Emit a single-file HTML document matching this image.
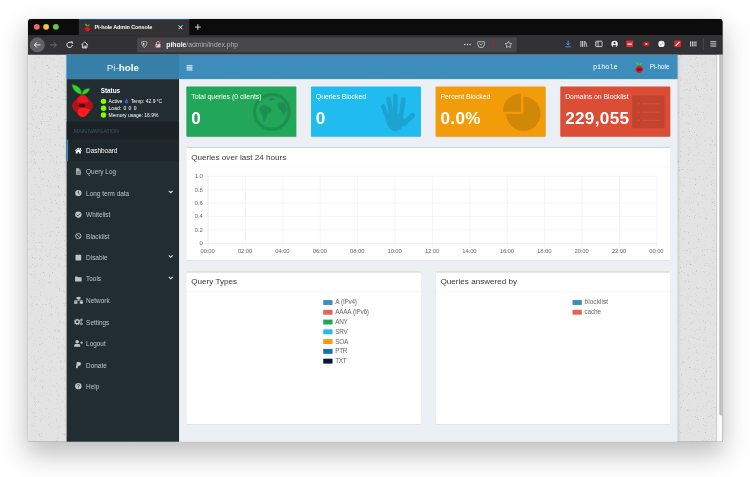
<!DOCTYPE html>
<html lang="en">
<head>
<meta charset="utf-8">
<title>Pi-hole Admin Console</title>
<style>
*{box-sizing:border-box}
html,body{margin:0;padding:0}
body{width:750px;height:477px;background:#fff;position:relative;overflow:hidden;font-family:"Liberation Sans",sans-serif}
#shadow{position:absolute;left:28px;top:19px;width:694px;height:422px;border-radius:3px;box-shadow:0 12px 26px 2px rgba(0,0,0,.25),0 0 2px rgba(0,0,0,.2)}
#win{position:absolute;left:27.7px;top:18.6px;width:1421px;height:865px;transform:scale(.4888);transform-origin:0 0;background:#323234;border-radius:7px 7px 0 0;overflow:hidden}
/* ---------- browser chrome ---------- */
#titlebar{position:absolute;left:0;top:0;width:1421px;height:34px;background:#0c0c0d}
.tl{position:absolute;top:10.200px;width:12px;height:12px;border-radius:50%}
#tab{position:absolute;left:104px;top:0;width:226px;height:33px;background:#323234;border-top:1.500px solid #0a84ff;color:#f9f9fa;font-size:12px;font-weight:bold;line-height:30px}
#tab span{position:absolute;left:32px;top:0;white-space:nowrap;letter-spacing:-.25px;font-size:11.3px}
#toolbar{position:absolute;left:0;top:33px;width:1421px;height:40px;background:#323234;border-bottom:1px solid #1a1a1c}
#urlbar{position:absolute;left:223px;top:4.500px;width:777px;height:30px;background:#474749;border-radius:3px;color:#b1b1b3;font-size:13.900px;line-height:31px}
#urlbar .u{position:absolute;left:60px;top:0;white-space:nowrap}
#urlbar b{color:#f9f9fa}
.ic{position:absolute}
#urlbar svg.ic{margin-top:0}
/* ---------- page ---------- */
#page{position:absolute;left:0;top:72.500px;width:1409px;height:793px;background:#e3e3e3;overflow:hidden}
#scroll{position:absolute;left:1408.500px;top:72.500px;width:13px;height:793px;background:#fafafa;border-left:1px solid #e8e8e8}
#scroll i{position:absolute;left:4.500px;top:0;width:8px;height:738px;background:#c1c1c1;border-radius:0 0 4px 4px}
#wrap{position:absolute;left:78.900px;top:.5px;width:1250px;height:793px;background:#ecf0f5;box-shadow:0 0 6px rgba(0,0,0,.3)}
#logo{position:absolute;left:0;top:0;width:230.200px;height:50px;background:#367fa9;color:#fff;font-size:20px;line-height:54.500px;text-align:center}
#nav{position:absolute;left:230px;top:0;width:1020px;height:50px;color:#fff}
#side{position:absolute;left:0;top:49.500px;width:230px;height:744px;background:#222d32;color:#b8c7ce}

/* sidebar */
#upanel{position:absolute;left:0;top:0;width:230px;height:87px}
#upanel svg.lg{position:absolute;left:10px;top:10px}
#upanel .st{position:absolute;left:70px;top:16px;color:#fff;font-weight:bold;font-size:12.900px;line-height:16px}
#upanel .ln{position:absolute;left:70px;color:#fff;font-size:10.200px;line-height:14px;white-space:nowrap}
#upanel .ln i{display:inline-block;width:11px;height:11px;border-radius:50%;background:#7fff00;vertical-align:-2px;margin-right:5px}
#mh{position:absolute;left:0;top:87px;width:230px;height:37px;background:#1a2226;color:#41575f;font-size:10.600px;line-height:41px;padding-left:15px;letter-spacing:-.1px}
.mi{position:absolute;left:0;width:230px;height:44px;color:#b8c7ce;font-size:13.1px;line-height:44px;border-left:3px solid transparent}
.mi.act{background:#1e282c;color:#fff;border-left-color:#3c8dbc}
.mi span{position:absolute;left:37px;top:1.5px;white-space:nowrap}
.mi svg.i{position:absolute;left:13.500px;top:15px;width:16px;height:14.200px;fill:currentColor}
.mi svg.i.w{left:12.500px;top:14.500px;width:19px;height:15.200px}
.mi svg.ch{position:absolute;left:205.500px;top:15px;width:10px;height:10px}
/* nav */
#nav svg.bars{position:absolute;left:15.500px;top:19.500px}
#nav .host{position:absolute;left:847px;top:0;line-height:50px;font-family:"Liberation Mono",monospace;font-size:14px;white-space:nowrap}
#nav .usr{position:absolute;left:963px;top:0;line-height:50px;font-size:13px;white-space:nowrap}
#nav svg.ul{position:absolute;left:933px;top:14px}
/* content */
.sb{position:absolute;top:65px;width:225px;height:103px;border-radius:2px;color:#fff;overflow:hidden;box-shadow:0 1px 1px rgba(0,0,0,.1)}
.sb p{position:absolute;left:10px;top:10px;margin:0;font-size:14px;line-height:21px;white-space:nowrap}
.sb h3{position:absolute;left:10px;top:43.5px;margin:0;font-size:35px;line-height:42px;font-weight:bold;white-space:nowrap;letter-spacing:.7px}
.sb svg{position:absolute}
.bx{position:absolute;background:#fff;border-top:3px solid #d2d6de;border-radius:3px;box-shadow:0 1px 1px rgba(0,0,0,.1)}
.bx .hd{position:absolute;left:0;top:0;right:0;height:39px;border-bottom:1px solid #f4f4f4;color:#383838;font-size:16.6px;line-height:38px;padding-left:10px;white-space:nowrap}
.lg2{position:absolute;font-size:13px;line-height:20px;color:#666;white-space:nowrap;letter-spacing:-.5px;word-spacing:1.500px}
.lg2 i{display:inline-block;width:19.600px;height:10.500px;vertical-align:-1px;margin-right:5px}
.ax{position:absolute;font-size:12px;letter-spacing:-.2px;color:#666;line-height:12px;white-space:nowrap}
</style>
</head>
<body>
<div id="shadow"></div>
<div id="win">
  <div id="titlebar">
    <div class="tl" style="left:11.800px;background:#ed6a5e"></div>
    <div class="tl" style="left:31.300px;background:#f5bf4f"></div>
    <div class="tl" style="left:51.300px;background:#61c554"></div>
    <div id="tab"><span>Pi-hole Admin Console</span></div><svg class="ic" style="left:116.300px;top:8.600px" width="12" height="18" viewBox="0 0 45 67"><path d="M22 23C9 21 2 12 1 1c12 1 22 8 21 22z" fill="#2fd32f"/><path d="M23 23c0-9 5-15 15-16 0 9-6 15-15 16z" fill="#2fd32f"/><path d="M22 22c4 0 7 2 10 5l9 9c4 4 4 9 0 13l-9 10c-6 6-14 6-20 0l-8-9c-4-4-4-9 0-13l9-10c3-3 6-5 9-5z" fill="#e3101b"/></svg><svg class="ic" style="left:307.2px;top:12.2px" width="10" height="10" viewBox="0 0 10 10"><path d="M1 1l8 8M9 1l-8 8" stroke="#f9f9fa" stroke-width="2"/></svg><svg class="ic" style="left:340.5px;top:9.7px" width="13" height="13" viewBox="0 0 13 13"><path d="M6.500 0.500v12M0.500 6.500h12" stroke="#f9f9fa" stroke-width="1.700"/></svg>
  </div>
  <div id="toolbar">
    <div class="ic" style="left:4.4px;top:5.0px;width:30px;height:30px;border-radius:50%;background:#636365;border:1px solid #747476"></div><svg class="ic" style="left:11.4px;top:12.0px" width="16" height="16" viewBox="0 0 16 16"><path d="M14.500 8H2M7.500 2.500L2 8l5.500 5.500" stroke="#f9f9fa" stroke-width="1.800" fill="none"/></svg><svg class="ic" style="left:43.8px;top:12.0px" width="16" height="16" viewBox="0 0 16 16"><path d="M1.500 8H14M8.500 2.500L14 8l-5.500 5.500" stroke="#7d7d80" stroke-width="1.700" fill="none"/></svg><svg class="ic" style="left:76.5px;top:12.0px" width="16" height="16" viewBox="0 0 16 16"><path d="M13.500 8a5.500 5.500 0 1 1-2-4.300" stroke="#f9f9fa" stroke-width="1.800" fill="none"/><path d="M9.500 1h5v5z" fill="#f9f9fa"/></svg><svg class="ic" style="left:108.2px;top:12.0px" width="16" height="16" viewBox="0 0 16 16"><path d="M1 8.500L8 1.500l7 7M3.500 7v7.500h9V7M6.500 14.500v-4h3v4" stroke="#f9f9fa" stroke-width="1.600" fill="none" stroke-linejoin="round"/></svg><svg class="ic" style="left:1097.4px;top:9.9px" width="16" height="16" viewBox="0 0 16 16"><path d="M8 1v9M4 6.500L8 10.500l4-4M2 14h12" stroke="#45a1ff" stroke-width="1.800" fill="none"/></svg><svg class="ic" style="left:1128.5px;top:9.9px" width="16" height="16" viewBox="0 0 16 16"><path d="M2 2v12M5.500 2v12M9 2v12M11.500 3l3 11" stroke="#f9f9fa" stroke-width="1.600" fill="none"/></svg><svg class="ic" style="left:1159.6px;top:9.9px" width="16" height="16" viewBox="0 0 16 16"><rect x="1.500" y="2.500" width="13" height="11" rx="1.500" stroke="#f9f9fa" stroke-width="1.600" fill="none"/><path d="M6.500 2.500v11" stroke="#f9f9fa" stroke-width="1.400"/><path d="M3 5.500h2M3 8h2" stroke="#f9f9fa" stroke-width="1"/></svg><svg class="ic" style="left:1192.3px;top:9.9px" width="16" height="16" viewBox="0 0 16 16"><circle cx="8" cy="8" r="6.500" fill="#f9f9fa"/><circle cx="8" cy="6.300" r="2.300" fill="#323234"/><path d="M3.800 12c1-2.200 7.400-2.200 8.400 0a6 6 0 0 1-8.400 0z" fill="#323234"/></svg><svg class="ic" style="left:1223.4px;top:9.9px" width="16" height="16" viewBox="0 0 16 16"><rect x="1" y="1" width="14" height="14" rx="1.500" fill="#e22d2d"/><rect x="3.500" y="7" width="9" height="3" fill="#ffd9d9"/></svg><svg class="ic" style="left:1256.9px;top:9.9px" width="16" height="16" viewBox="0 0 16 16"><rect x="1.500" y="3.500" width="13" height="9" rx="3" fill="#c91f1f"/><circle cx="8" cy="8" r="2" fill="#fff"/></svg><svg class="ic" style="left:1288.0px;top:9.9px" width="16" height="16" viewBox="0 0 16 16"><circle cx="8" cy="8" r="6.500" fill="#f0f0f0"/><path d="M5 9.500c1 .8 2 .8 3 0M9 7c.7-.6 1.500-.6 2 0" stroke="#444" stroke-width="1.100" fill="none"/></svg><svg class="ic" style="left:1320.8px;top:9.9px" width="16" height="16" viewBox="0 0 16 16"><rect x="1" y="1" width="14" height="14" rx="1.500" fill="#d7262c"/><path d="M4 12L12 4" stroke="#fff" stroke-width="2.200"/></svg><svg class="ic" style="left:1352.7px;top:9.9px" width="16" height="16" viewBox="0 0 16 16"><path d="M2.500 3v10M6.200 3v10M9.800 3v10M13.500 3v10" stroke="#f9f9fa" stroke-width="2" stroke-dasharray="3 .7"/></svg><div class="ic" style="left:1381.5px;top:6.9px;width:1px;height:22px;background:#5c5c5f"></div><svg class="ic" style="left:1394.4px;top:9.9px" width="16" height="16" viewBox="0 0 16 16"><path d="M2 3.500h12M2 8h12M2 12.500h12" stroke="#f9f9fa" stroke-width="1.700"/></svg><div id="urlbar"><svg class="ic" style="left:7.9px;top:6.6px" width="14" height="16" viewBox="0 0 14 16"><path d="M7 1.500c2 1 4 1.300 5.500 1.300 0 5-1.500 9-5.500 11.500C3 11.800 1.500 7.800 1.500 2.800 3 2.800 5 2.500 7 1.500z" stroke="#d0d0d2" stroke-width="1.500" fill="none"/><path d="M7 4v8c-2-1.500-3-4-3-7 1 0 2-.4 3-1z" fill="#d0d0d2"/></svg><svg class="ic" style="left:35.4px;top:6.6px" width="16" height="16" viewBox="0 0 16 16"><rect x="3" y="7" width="10" height="7.500" rx="1" fill="#d0d0d2"/><path d="M5 7V5a3 3 0 0 1 6 0v2" stroke="#d0d0d2" stroke-width="1.600" fill="none"/><path d="M1.500 14.500L14.500 1.500" stroke="#ff3b3b" stroke-width="2"/></svg><svg class="ic" style="left:668.1px;top:6.6px" width="16" height="16" viewBox="0 0 16 16"><circle cx="2.500" cy="8" r="1.500" fill="#d7d7db"/><circle cx="8" cy="8" r="1.500" fill="#d7d7db"/><circle cx="13.500" cy="8" r="1.500" fill="#d7d7db"/></svg><svg class="ic" style="left:696.0px;top:6.6px" width="16" height="16" viewBox="0 0 16 16"><path d="M2 2.500h12a1 1 0 0 1 1 1V8a7 6.500 0 0 1-14 0V3.500a1 1 0 0 1 1-1z" stroke="#d7d7db" stroke-width="1.600" fill="none"/><path d="M4.800 6.500L8 9.500l3.200-3" stroke="#d7d7db" stroke-width="1.600" fill="none"/></svg><svg class="ic" style="left:723.3px;top:6.6px" width="12" height="16" viewBox="0 0 12 16"><path d="M8 1L3 9h3l-1 6 5-9H7z" fill="#c4161c"/></svg><svg class="ic" style="left:752.4px;top:6.6px" width="16" height="16" viewBox="0 0 16 16"><path d="M8 1.500l2 4.300 4.700.6-3.500 3.200.9 4.700L8 12l-4.100 2.300.9-4.700L1.300 6.400 6 5.800z" stroke="#d7d7db" stroke-width="1.500" fill="none" stroke-linejoin="round"/></svg><div class="u"><b>pihole</b>/admin/index.php</div></div>
  </div>
  <div id="page"><svg style="position:absolute;left:0;top:0" width="1409" height="793"><filter id="nz" x="0" y="0" width="100%" height="100%"><feTurbulence type="fractalNoise" baseFrequency=".55" numOctaves="2" seed="7"/><feColorMatrix type="matrix" values="0 0 0 0 .45  0 0 0 0 .45  0 0 0 0 .45  0 0 0 -3.500 1.200"/></filter><rect width="1409" height="793" filter="url(#nz)"/></svg>
    <div id="wrap">
      <div style="position:absolute;left:0;top:0;width:1250px;height:50px;background:#3c8dbc"></div><div id="logo"><span style="opacity:.85">Pi-</span><b>hole</b></div>
      <div id="nav"><svg class="bars" width="13" height="14" viewBox="0 0 13 14"><path d="M0 2.500h13M0 7h13M0 11.500h13" stroke="#fff" stroke-width="2.200"/></svg><div class="host">pihole</div><svg class="ul" width="17" height="25" viewBox="0 0 45 67"><path d="M22 23C9 21 2 12 1 1c12 1 22 8 21 22z" fill="#2fd32f"/><path d="M23 23c0-9 5-15 15-16 0 9-6 15-15 16z" fill="#2fd32f"/><path d="M22 22c4 0 7 2 10 5l9 9c4 4 4 9 0 13l-9 10c-6 6-14 6-20 0l-8-9c-4-4-4-9 0-13l9-10c3-3 6-5 9-5z" fill="#e3101b"/><path d="M12 40c6-3 14-3 22 0 3 2 3 6 0 8-8 3-16 3-22 0-3-2-3-6 0-8z" fill="#7a0a0e"/></svg><div class="usr">Pi-hole</div></div>
      <div class="sb" style="left:245px;background:#22a65a"><svg style="left:0;top:0" width="225" height="103" viewBox="0 0 225 103"><g opacity=".13"><circle cx="174.800" cy="52" r="35.400" fill="none" stroke="#000" stroke-width="6.500"/><path d="M152 41c4-3 9-3 13-1 4 2 8 3 9 7 1 4-3 6-6 8-3 3-3 7-5 11-1 3-2 7-5 6-2-4-1-9-3-13-2-5-6-8-6-12 0-3 1-5 3-6zM189 33c4-2 9-1 12 2 3 4 5 9 4 14-1 4-3 8-6 10-3 0-3-4-4-7-1-4-5-5-7-9-2-4-2-8 1-10zM170 24c3-2 8-2 11 0 1 2-2 3-4 4-3 1-6 2-8 0-1-2 0-3 1-4z" fill="#000"/></g></svg><p>Total queries (0 clients)</p><h3>0</h3></div><div class="sb" style="left:500px;background:#21bcef"><svg style="left:0;top:0" width="225" height="103" viewBox="0 0 225 103"><g opacity=".13" stroke="#000" stroke-linecap="round" fill="none"><path d="M147.500 40.500L157 64" stroke-width="9"/><path d="M158.500 25.500L165 60" stroke-width="9.500"/><path d="M172.500 19V60" stroke-width="9.500"/><path d="M189 27L184 60" stroke-width="9.500"/><path d="M208 59L190 76" stroke-width="10.500"/><path d="M153 60c0-6 36-6 35 2l3 8c-3 12-9 21-18 21-11 0-17-10-20-24z" fill="#000" stroke-width="1"/></g></svg><p>Queries Blocked</p><h3>0</h3></div><div class="sb" style="left:755px;background:#f29c0a"><svg style="left:0;top:0" width="225" height="103" viewBox="0 0 225 103"><g opacity=".13" fill="#000"><path d="M179.500 56V21a35 35 0 1 1-35 35z"/><path d="M174.500 51.500V14.500a37 37 0 0 0-37 37z"/></g></svg><p>Percent Blocked</p><h3>0.0%</h3></div><div class="sb" style="left:1010px;background:#db4d34"><svg style="left:0;top:0" width="225" height="103" viewBox="0 0 225 103"><rect x="147" y="18.500" width="67" height="67" rx="3" fill="rgba(0,0,0,.11)"/><g fill="#e4563c" opacity=".55"><rect x="159" y="34" width="3.500" height="2.600"/><rect x="167" y="34" width="36" height="2.600"/><rect x="159" y="51.500" width="3.500" height="2.600"/><rect x="167" y="51.500" width="36" height="2.600"/><rect x="159" y="68" width="3.500" height="2.600"/><rect x="167" y="68" width="36" height="2.600"/></g></svg><p>Domains on Blocklist</p><h3>229,055</h3></div><div class="bx" style="left:245px;top:188px;width:990px;height:232px"><div class="hd">Queries over last 24 hours</div><svg style="position:absolute;left:0;top:0" width="990" height="229" viewBox="0 0 990 229"><g stroke="#ebebeb" stroke-width="1"><path d="M120.9 57.8V202.9"/><path d="M197.4 57.8V202.9"/><path d="M273.9 57.8V202.9"/><path d="M350.4 57.8V202.9"/><path d="M426.9 57.8V202.9"/><path d="M503.4 57.8V202.9"/><path d="M579.9 57.8V202.9"/><path d="M656.5 57.8V202.9"/><path d="M733.0 57.8V202.9"/><path d="M809.5 57.8V202.9"/><path d="M886.0 57.8V202.9"/><path d="M962.5 57.8V202.9"/><path d="M36.3 57.8H962.5"/><path d="M36.3 85.2H962.5"/><path d="M36.3 112.6H962.5"/><path d="M36.3 140.1H962.5"/><path d="M36.3 167.5H962.5"/></g><path d="M44.3 57.8V202.9M36.3 194.9H962.5" stroke="#d6d6d6" fill="none"/></svg><div class="ax" style="right:956.7px;top:51.8px">1.0</div><div class="ax" style="right:956.7px;top:79.2px">0.8</div><div class="ax" style="right:956.7px;top:106.6px">0.6</div><div class="ax" style="right:956.7px;top:134.1px">0.4</div><div class="ax" style="right:956.7px;top:161.5px">0.2</div><div class="ax" style="right:956.7px;top:188.9px">0</div><div class="ax" style="left:23.5px;width:40px;text-align:center;top:204.0px">00:00</div><div class="ax" style="left:100.1px;width:40px;text-align:center;top:204.0px">02:00</div><div class="ax" style="left:176.6px;width:40px;text-align:center;top:204.0px">04:00</div><div class="ax" style="left:253.1px;width:40px;text-align:center;top:204.0px">06:00</div><div class="ax" style="left:329.6px;width:40px;text-align:center;top:204.0px">08:00</div><div class="ax" style="left:406.1px;width:40px;text-align:center;top:204.0px">10:00</div><div class="ax" style="left:482.6px;width:40px;text-align:center;top:204.0px">12:00</div><div class="ax" style="left:559.1px;width:40px;text-align:center;top:204.0px">14:00</div><div class="ax" style="left:635.7px;width:40px;text-align:center;top:204.0px">16:00</div><div class="ax" style="left:712.2px;width:40px;text-align:center;top:204.0px">18:00</div><div class="ax" style="left:788.7px;width:40px;text-align:center;top:204.0px">20:00</div><div class="ax" style="left:865.2px;width:40px;text-align:center;top:204.0px">22:00</div><div class="ax" style="left:941.7px;width:40px;text-align:center;top:204.0px">00:00</div></div><div class="bx" style="left:245px;top:443px;width:480px;height:313px"><div class="hd">Query Types</div><div class="lg2" style="left:280px;top:51px"><i style="background:#3c8dbc"></i>A (IPv4)</div><div class="lg2" style="left:280px;top:71px"><i style="background:#e5654f"></i>AAAA (IPv6)</div><div class="lg2" style="left:280px;top:91px"><i style="background:#22a65a"></i>ANY</div><div class="lg2" style="left:280px;top:111px"><i style="background:#21bcef"></i>SRV</div><div class="lg2" style="left:280px;top:131px"><i style="background:#f29c0a"></i>SOA</div><div class="lg2" style="left:280px;top:151px"><i style="background:#1171b5"></i>PTR</div><div class="lg2" style="left:280px;top:171px"><i style="background:#00183c"></i>TXT</div></div><div class="bx" style="left:755px;top:443px;width:480px;height:313px"><div class="hd">Queries answered by</div><div class="lg2" style="left:280px;top:51px"><i style="background:#3c8dbc"></i><span style="letter-spacing:.25px">blocklist</span></div><div class="lg2" style="left:280px;top:71px"><i style="background:#e5654f"></i><span style="letter-spacing:-.2px">cache</span></div></div><div id="side"><div id="upanel"><svg class="lg" width="45" height="70" viewBox="0 0 45 70"><path d="M20.500 21.500C9 19 2 11 1 1c11 1 20.500 8 19.500 20.500z" fill="#2fd42f" stroke="#0f7d14" stroke-width="1.200"/><path d="M21.500 21.500c.5-8.500 6.500-12.500 15.500-13-.5 7.500-7 12.500-15.500 13z" fill="#2fd42f" stroke="#0f7d14" stroke-width="1.200"/><path d="M22.500 22c4.500 0 7.500 3 10.500 6l8 9c4 4 4 11 0 15L31 63c-5 6-12 6-17 0L4 52c-4-4-4-11 0-15l9-9c3-3 6-6 9.500-6z" fill="#b3121a"/><path d="M22.500 22.500c4.500.5 7.500 3.500 9.500 6.500l3 7c-5 4-19 4-24 0l2-7c2-3 5-6 9.500-6.500z" fill="#ee141e"/><path d="M14 51c6-4 16-3 24 2l-7 10c-5 6-12 6-16 1-3-4-3-9-1-13z" fill="#ff1c1c"/><ellipse cx="21.500" cy="44" rx="7" ry="3.500" fill="#4a0d0d"/></svg><div class="st">Status</div><div class="ln" style="top:39.200px"><i></i>Active <svg width="9" height="11" viewBox="0 0 9 11" style="vertical-align:-1.500px;margin:0 4px 0 2px"><path d="M4.500 0.500C6 4 8.500 5.500 8.500 7.800a4 3 0 0 1-8 0C0.500 5.500 3 4 4.500 0.500z" fill="#3759dd"/></svg>Temp: 42.9&#8201;°C</div><div class="ln" style="top:53.300px;word-spacing:2px"><i></i>Load: 0 0 0</div><div class="ln" style="top:67.400px"><i></i>Memory usage: 16.9%</div></div><div id="mh">MAIN NAVIGATION</div><div class="mi act" style="top:124.0px"><svg class="i" viewBox="0 0 18 16"><path d="M9 1.2 0.8 8.2l1 1.1L9 3.3l7.2 6 1-1.1-2.4-2V2.2h-2v2.3zM3.2 9.3V15h4.2v-3.8h3.2V15h4.2V9.3L9 4.5z"/></svg><span>Dashboard</span></div><div class="mi" style="top:167.9px"><svg class="i" viewBox="0 0 18 16"><path d="M4 0.5h6.2v4.3h4.3V15.5H4zM11.2 0.7l3.1 3.1h-3.1z"/><path d="M6 7.5h6.5M6 10h6.5M6 12.5h6.5" stroke="#222d32" stroke-width="1.1" fill="none"/></svg><span>Query Log</span></div><div class="mi" style="top:211.8px"><svg class="i" viewBox="0 0 18 16"><circle cx="9" cy="8" r="7.3"/><path d="M9 3.5V8.4l3 2.2" stroke="#222d32" stroke-width="1.7" fill="none" stroke-linecap="round"/></svg><span>Long term data</span><svg class="ch" viewBox="0 0 10 10"><path d="M1 2.500l4 4 4-4" stroke="#dfe7ea" stroke-width="2.300" fill="none"/></svg></div><div class="mi" style="top:255.7px"><svg class="i" viewBox="0 0 18 16"><circle cx="9" cy="8" r="7.3"/><path d="M5.2 8.3l2.7 2.7 5-5.2" stroke="#222d32" stroke-width="2" fill="none"/></svg><span>Whitelist</span></div><div class="mi" style="top:299.6px"><svg class="i" viewBox="0 0 18 16"><circle cx="9" cy="8" r="6.2" fill="none" stroke="currentColor" stroke-width="2"/><path d="M4.6 3.6l8.8 8.8" stroke="currentColor" stroke-width="2"/></svg><span>Blacklist</span></div><div class="mi" style="top:343.5px"><svg class="i" viewBox="0 0 18 16"><rect x="2.5" y="1.5" width="13" height="13" rx="1.5"/></svg><span>Disable</span><svg class="ch" viewBox="0 0 10 10"><path d="M1 2.500l4 4 4-4" stroke="#dfe7ea" stroke-width="2.300" fill="none"/></svg></div><div class="mi" style="top:387.4px"><svg class="i" viewBox="0 0 18 16"><path d="M1.5 2h5.2l1.8 2h8v9.8h-15z"/></svg><span>Tools</span><svg class="ch" viewBox="0 0 10 10"><path d="M1 2.500l4 4 4-4" stroke="#dfe7ea" stroke-width="2.300" fill="none"/></svg></div><div class="mi" style="top:431.3px"><svg class="i w" viewBox="0 0 20 16"><rect x="6" y="0.5" width="8" height="5.5" rx=".7"/><rect x="0.5" y="10" width="7" height="5.5" rx=".7"/><rect x="12.5" y="10" width="7" height="5.5" rx=".7"/><path d="M10 6v2.3M0.5 8.3h19M4 8.3V10M16 8.3V10" stroke="currentColor" stroke-width="1.3" fill="none"/></svg><span>Network</span></div><div class="mi" style="top:475.2px"><svg class="i w" viewBox="0 0 20 16"><circle cx="7" cy="8" r="4.2" fill="none" stroke="currentColor" stroke-width="3"/><circle cx="7" cy="8" r="6" fill="none" stroke="currentColor" stroke-width="2" stroke-dasharray="2.4 2.3"/><circle cx="16" cy="3.8" r="1.8" fill="none" stroke="currentColor" stroke-width="1.8"/><circle cx="16" cy="3.8" r="3" fill="none" stroke="currentColor" stroke-width="1.2" stroke-dasharray="1.3 1.1"/><circle cx="16" cy="12.2" r="1.8" fill="none" stroke="currentColor" stroke-width="1.8"/><circle cx="16" cy="12.2" r="3" fill="none" stroke="currentColor" stroke-width="1.2" stroke-dasharray="1.3 1.1"/></svg><span>Settings</span></div><div class="mi" style="top:519.1px"><svg class="i w" viewBox="0 0 20 16"><circle cx="7" cy="4.3" r="3.8"/><path d="M0.5 15.5v-2.3c0-2.6 2-4 4-4h5c2 0 4 1.400 4 4v2.300z"/><path d="M16.500 3.500v6M13.500 6.500h6" stroke="currentColor" stroke-width="1.700"/></svg><span>Logout</span></div><div class="mi" style="top:563.0px"><svg class="i" viewBox="0 0 18 16"><path d="M5.500 1h5.500c3 0 4.600 1.900 4.100 4.600-.5 2.900-2.800 4.400-5.400 4.400H8.200l-.9 5H3.200z"/></svg><span>Donate</span></div><div class="mi" style="top:606.9px"><svg class="i" viewBox="0 0 18 16"><circle cx="9" cy="8" r="7.3"/><path d="M6.600 6.200c.2-1.600 1.300-2.300 2.500-2.300 1.400 0 2.400.9 2.400 2 0 1.800-2.300 1.700-2.300 3.600" stroke="#222d32" stroke-width="1.700" fill="none"/><circle cx="9.100" cy="12" r="1.100" fill="#222d32"/></svg><span>Help</span></div></div>
    </div>
  </div>
  <div id="scroll"><i></i></div>
</div>
</body>
</html>
